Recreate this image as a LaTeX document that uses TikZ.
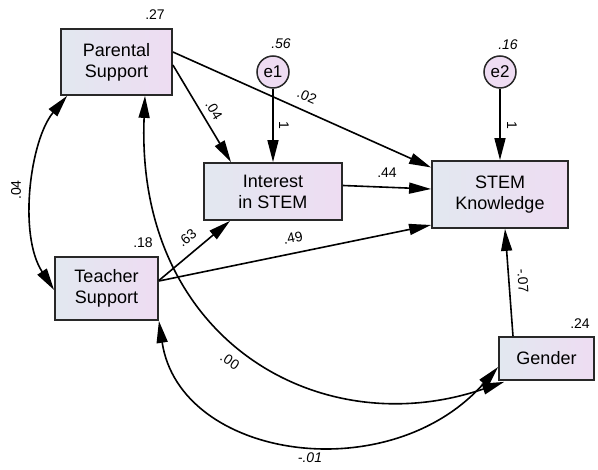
\documentclass[tikz,border=0pt]{standalone}
\usepackage{fontspec}
\setmainfont{Liberation Sans}
\usetikzlibrary{arrows.meta}
\definecolor{boxleft}{RGB}{226,232,240}
\definecolor{boxright}{RGB}{238,220,242}
\definecolor{boxedge}{RGB}{40,40,40}

\begin{document}
\begin{tikzpicture}[x=1pt, y=-1pt,
    var/.style={draw=boxedge, line width=1.8pt, left color=boxleft, right color=boxright, align=center, inner sep=0pt, font=\fontsize{18}{21}\selectfont},
    err/.style={circle, draw=boxedge, line width=1.5pt, fill=boxright, minimum size=32pt, inner sep=0pt, font=\fontsize{17}{19}\selectfont},
    effect/.style={line width=1.6pt, -{Triangle[length=22pt,width=11pt]}},
    cov/.style={line width=1.6pt, {Triangle[length=22pt,width=11pt]}-{Triangle[length=22pt,width=11pt]}},
    est/.style={font=\fontsize{14}{16}\selectfont, inner sep=1pt}]
    \useasboundingbox (0,0) rectangle (598,470);

    % Observed variables
    \node[var, minimum width=111pt, minimum height=66pt] (par) at (116.5,62) {Parental\\Support};
    \node[var, minimum width=138pt, minimum height=57pt] (int) at (273,191.5) {Interest\\in STEM};
    \node[var, minimum width=136pt, minimum height=67pt] (stem) at (500,194.5) {STEM\\Knowledge};
    \node[var, minimum width=103pt, minimum height=63pt] (tea) at (106.5,288.5) {Teacher\\Support};
    \node[var, minimum width=95pt, minimum height=43pt] (gen) at (546.5,358.5) {Gender};

    % Error terms
    \node[err] (e1) at (273,72) {e1};
    \node[err] (e2) at (500,72) {e2};

    % Regression paths
    \draw[effect] ([yshift=-3pt]par.east) -- ([xshift=-42pt]int.north);
    \draw[effect] ([yshift=10pt]par.east) -- ([yshift=27pt]stem.west);
    \draw[effect] (e1) -- (int);
    \draw[effect] (e2) -- (stem);
    \draw[effect] ([yshift=6pt]int.east) -- ([yshift=5.5pt]stem.west);
    \draw[effect] ([yshift=8pt]tea.east) -- ([xshift=-43pt]int.south);
    \draw[effect] ([yshift=7.5pt]tea.east) -- ([yshift=-30.5pt]stem.west);
    \draw[effect] ([xshift=-33.5pt]gen.north) -- ([xshift=5pt]stem.south);

    % Covariances
    \draw[cov] ([xshift=7pt]par.south west) .. controls (30,140) and (18,235) .. ([yshift=-1.5pt]tea.west);
    \draw[cov] ([xshift=28.5pt]par.south) .. controls (135,340) and (320,445) .. ([xshift=6pt,yshift=-1pt]gen.south west);
    \draw[cov] (tea.south east) .. controls (180,460) and (390,490) .. ([yshift=-8.5pt]gen.west);

    % Variances
    \node[est] (vpar) at (155,15) {.27};
    \node[est] (ve1) at (281,44) {\itshape .56};
    \node[est] (ve2) at (508,45) {\itshape .16};
    \node[est] (vtea) at (143,243) {.18};
    \node[est] (vgen) at (580,324) {.24};

    % Path estimates
    \node[est, rotate=-59] (bpi) at (214,110) {.04};
    \node[est, rotate=-24] (bps) at (307,96) {.02};
    \node[est, rotate=-90] (be1) at (284,125) {1};
    \node[est, rotate=-90] (be2) at (512,125) {1};
    \node[est] (bis) at (387,173) {.44};
    \node[est, rotate=40] (bti) at (187,238) {.63};
    \node[est, rotate=11.5] (bts) at (293,238) {.49};
    \node[est, rotate=-86] (bgs) at (523,281) {-.07};

    % Covariance estimates
    \node[est, rotate=90] (cpt) at (16,190) {.04};
    \node[est, rotate=-34] (cpg) at (230,361) {.00};
    \node[est] (ctg) at (310,458) {\itshape -.01};
\end{tikzpicture}
\end{document}
